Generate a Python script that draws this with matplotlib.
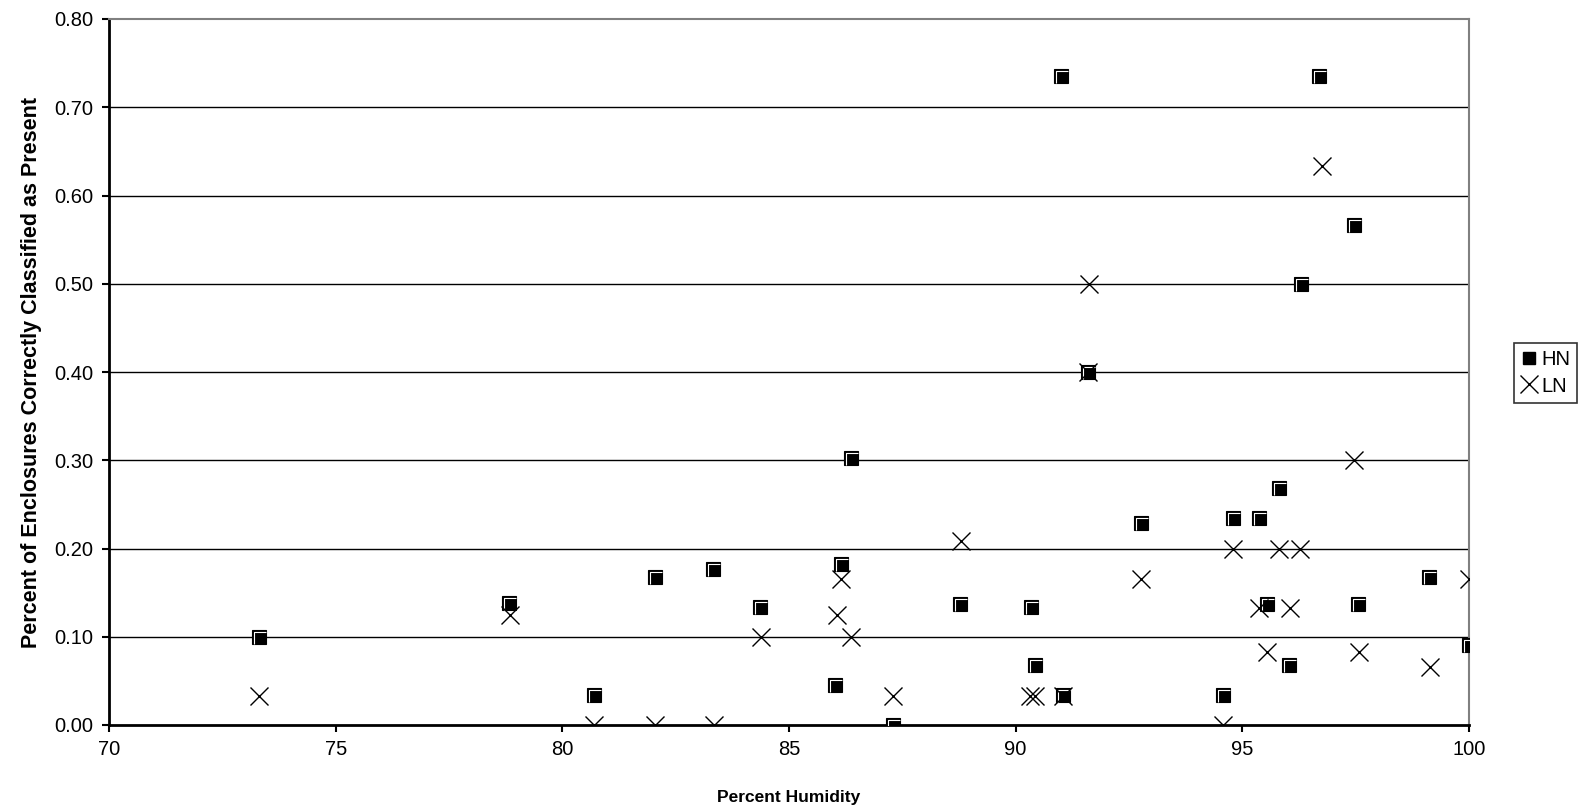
import matplotlib.pyplot as plt
from matplotlib.path import Path
from matplotlib.ticker import FormatStrFormatter

# humidity / proportion values
hn_humidity = [73.3, 78.82, 80.7, 82.05, 83.33, 84.35, 86.02, 86.14, 86.36, 87.29,
               88.77, 90.33, 90.42, 91.05, 91.0, 91.6, 92.76, 94.57, 94.79, 95.36,
               95.54, 95.81, 96.03, 96.3, 96.7, 97.47, 97.55, 99.12, 100.0]
hn_value = [0.100, 0.138, 0.034, 0.168, 0.177, 0.134, 0.045, 0.183, 0.302, 0.000,
            0.137, 0.134, 0.068, 0.034, 0.735, 0.400, 0.229, 0.034, 0.234, 0.234,
            0.137, 0.268, 0.068, 0.500, 0.735, 0.567, 0.137, 0.168, 0.091]

ln_humidity = [73.3, 78.85, 80.7, 82.05, 83.34, 84.38, 86.06, 86.14, 86.36, 87.29,
               88.79, 90.32, 90.42, 91.05, 91.62, 91.6, 92.76, 94.57, 94.79, 95.37,
               95.54, 95.81, 96.05, 96.27, 96.75, 97.47, 97.57, 99.14, 100.0]
ln_value = [0.033, 0.125, 0.000, 0.000, 0.000, 0.100, 0.125, 0.166, 0.100, 0.033,
            0.209, 0.033, 0.033, 0.033, 0.500, 0.400, 0.166, 0.000, 0.200, 0.133,
            0.083, 0.200, 0.133, 0.200, 0.633, 0.300, 0.083, 0.066, 0.166]

x_ticks = [70, 75, 80, 85, 90, 95, 100]
y_ticks = [0.0, 0.1, 0.2, 0.3, 0.4, 0.5, 0.6, 0.7, 0.8]

plt.rcParams['font.family'] = ['Liberation Sans', 'DejaVu Sans']

fig = plt.figure(figsize=(15.83, 8.11), dpi=100)
ax = fig.add_axes([109 / 1583, 86 / 811, 1360 / 1583, 706 / 811])

# white highlight inside the square markers
shine = Path([(-0.62, -0.9), (-0.62, 0.62), (0.9, 0.62)],
             [Path.MOVETO, Path.LINETO, Path.LINETO])

ax.plot(hn_humidity, hn_value, linestyle='none', marker='s', markersize=9.5,
        markerfacecolor='black', markeredgecolor='black', markeredgewidth=0.8,
        zorder=3)
ax.plot(hn_humidity, hn_value, linestyle='none', marker=shine, markersize=9.5,
        markerfacecolor='none', markeredgecolor='white', markeredgewidth=0.8,
        zorder=4)
ax.plot(ln_humidity, ln_value, linestyle='none', marker='x', markersize=13.5,
        markeredgecolor='black', markeredgewidth=1.0, zorder=5)

ax.set_xlim(70, 100)
ax.set_ylim(0, 0.8)
ax.set_xticks(x_ticks)
ax.set_yticks(y_ticks)
ax.yaxis.set_major_formatter(FormatStrFormatter('%.2f'))
ax.tick_params(direction='out', length=5, width=1.5, labelsize=14.5, pad=6)

for y in y_ticks[1:-1]:
    ax.axhline(y, color='black', linewidth=1.0, zorder=1)

ax.spines['left'].set_linewidth(2)
ax.spines['bottom'].set_linewidth(2)
ax.spines['top'].set_color('#808080')
ax.spines['right'].set_color('#808080')
ax.spines['top'].set_linewidth(1.5)
ax.spines['right'].set_linewidth(1.5)

ax.set_xlabel('Percent Humidity', fontsize=12.5, fontweight='bold', labelpad=22)
ax.set_ylabel('Percent of Enclosures Correctly Classified as Present', fontsize=15.5,
              fontweight='bold', labelpad=9)

# legend proxies
h1, = ax.plot([], [], linestyle='none', marker='s', markersize=8,
              markerfacecolor='black', markeredgecolor='black')
h2, = ax.plot([], [], linestyle='none', marker='x', markersize=13,
              markeredgecolor='black', markeredgewidth=1.0)
leg = fig.legend([h1, h2], ['HN', 'LN'], loc='center left',
                 bbox_to_anchor=(1514 / 1583, 1 - 373 / 811), fontsize=14.5,
                 frameon=True, fancybox=False, handlelength=0.8, handletextpad=0.2,
                 borderpad=0.35, labelspacing=0.35, borderaxespad=0)
leg.get_frame().set_edgecolor('black')
leg.get_frame().set_linewidth(1.2)

fig.savefig('out.png', dpi=100)
